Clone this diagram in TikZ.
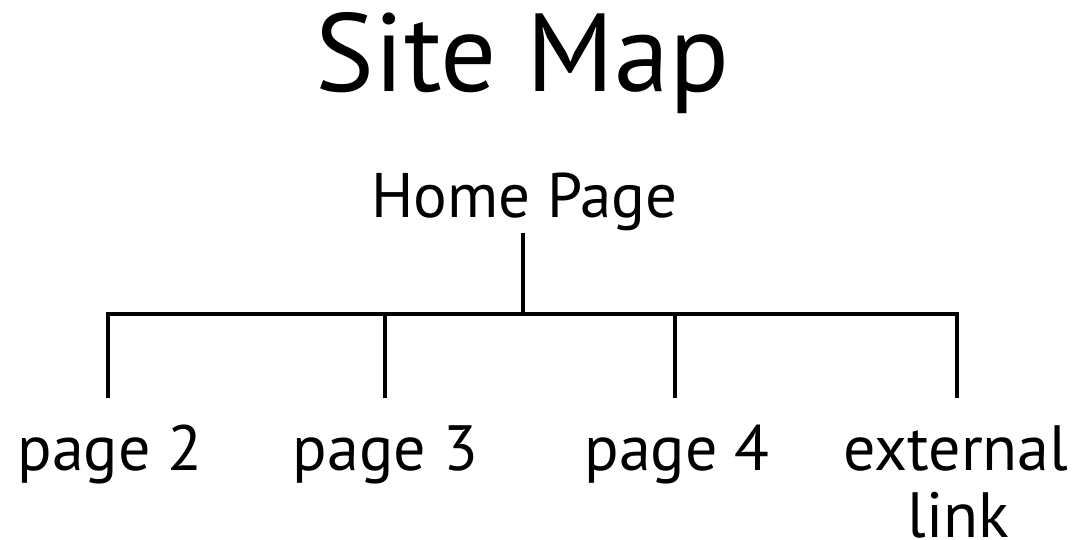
\documentclass[tikz,border=0pt]{standalone}
\usepackage{fontspec}
\setmainfont{PT Sans}
\begin{document}
\begin{tikzpicture}[x=1pt,y=1pt,
  lbl/.style={anchor=base,inner sep=0pt,font=\fontsize{64}{67}\selectfont},
  conn/.style={line width=3.2pt,line join=miter}]
\useasboundingbox (0,0) rectangle (1076,-539);
\node[anchor=base,inner sep=0pt,font=\fontsize{111}{115}\selectfont] (title) at (522.5,-91) {Site Map};
\node[lbl,font=\fontsize{63}{67}\selectfont] (home) at (524.5,-217) {Home Page};
\node[lbl] (p2) at (110,-470) {page 2};
\node[lbl] (p3) at (385.5,-470) {page 3};
\node[lbl] (p4) at (677,-470) {page 4};
\node[lbl] (ext) at (956,-470) {external};
\node[lbl] (link) at (958.5,-537) {link};
\coordinate (ht) at (523,-233);
\coordinate (hj) at (523,-314);
\coordinate (t2) at (108,-398);
\coordinate (t3) at (385,-398);
\coordinate (t4) at (675,-398);
\coordinate (tE) at (957,-398);
\draw[conn] (ht) -- (hj);
\draw[conn] (t2) |- (hj) -| (tE);
\draw[conn] (t3) -- (t3 |- hj);
\draw[conn] (t4) -- (t4 |- hj);
\end{tikzpicture}
\end{document}
